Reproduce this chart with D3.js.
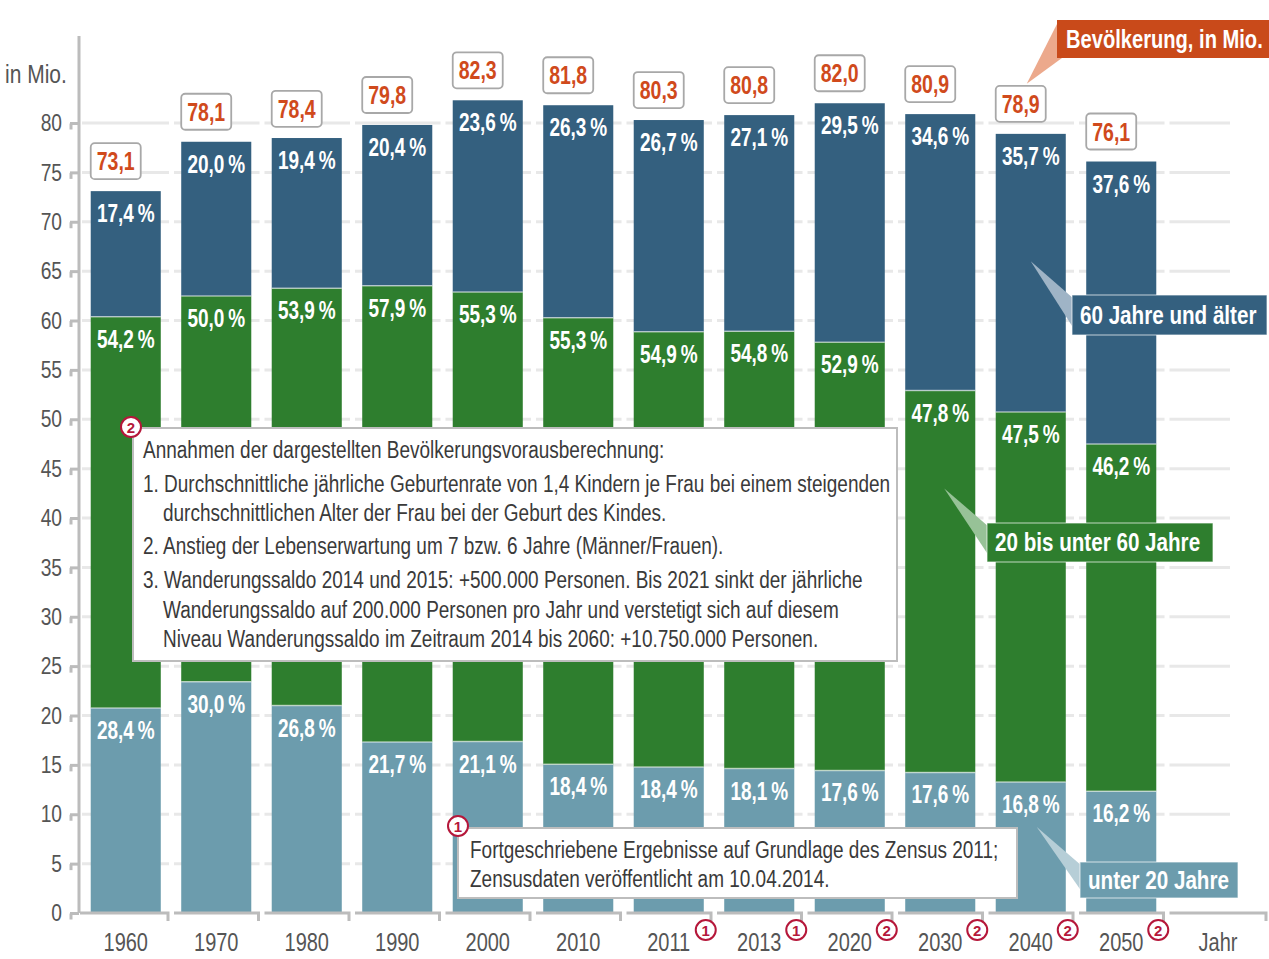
<!DOCTYPE html>
<html>
<head>
<meta charset="utf-8">
<script src="https://cdn.jsdelivr.net/npm/d3@7"></script>
<style>
	body { margin: 0; background: #fff; }
	svg { display: block; font-family: "Liberation Sans", Arial, sans-serif; }
</style>
</head>
<body>
<svg width="1269" height="959"></svg>
<script>
// values
const years = ["1960", "1970", "1980", "1990", "2000", "2010", "2011", "2013", "2020", "2030", "2040", "2050"]
const totals = [73.1, 78.1, 78.4, 79.8, 82.3, 81.8, 80.3, 80.8, 82.0, 80.9, 78.9, 76.1]
const pctUnder20 = [28.4, 30.0, 26.8, 21.7, 21.1, 18.4, 18.4, 18.1, 17.6, 17.6, 16.8, 16.2]
const pct20to60 = [54.2, 50.0, 53.9, 57.9, 55.3, 55.3, 54.9, 54.8, 52.9, 47.8, 47.5, 46.2]
const pct60plus = [17.4, 20.0, 19.4, 20.4, 23.6, 26.3, 26.7, 27.1, 29.5, 34.6, 35.7, 37.6]
const footnotes = [0, 0, 0, 0, 0, 0, 1, 1, 2, 2, 2, 2]
const yTickValues = [0, 5, 10, 15, 20, 25, 30, 35, 40, 45, 50, 55, 60, 65, 70, 75, 80]

const seriesKeys = ["under20", "mid", "old"]
const seriesNames = {
	under20: "unter 20 Jahre",
	mid: "20 bis unter 60 Jahre",
	old: "60 Jahre und älter",
}
const pctByKey = { under20: pctUnder20, mid: pct20to60, old: pct60plus }

const colors = {
	under20: "#6c9cad",
	mid: "#2e7e2e",
	old: "#34607f",
	red: "#d04a1c",
	badge: "#b5173a",
	grid: "#e8e8e8",
	axis: "#bcbcbc",
	text: "#555",
}

const notes2 = [
	["Annahmen der dargestellten Bevölkerungsvorausberechnung:", 0],
	["1. Durchschnittliche jährliche Geburtenrate von 1,4 Kindern je Frau bei einem steigenden", 0],
	["durchschnittlichen Alter der Frau bei der Geburt des Kindes.", 1],
	["2. Anstieg der Lebenserwartung um 7 bzw. 6 Jahre (Männer/Frauen).", 0],
	["3. Wanderungssaldo 2014 und 2015: +500.000 Personen. Bis 2021 sinkt der jährliche", 0],
	["Wanderungssaldo auf 200.000 Personen pro Jahr und verstetigt sich auf diesem", 1],
	["Niveau Wanderungssaldo im Zeitraum 2014 bis 2060: +10.750.000 Personen.", 1],
]
const notes1 = [
	"Fortgeschriebene Ergebnisse auf Grundlage des Zensus 2011;",
	"Zensusdaten veröffentlicht am 10.04.2014.",
]

const rows = years.map((year, i) => {
	const row = { year: year, i: i }
	seriesKeys.forEach((k) => (row[k] = (totals[i] * pctByKey[k][i]) / 100))
	return row
})

const de = d3.formatLocale({ decimal: ",", thousands: ".", grouping: [3], currency: ["", " €"] })
const fmt = de.format(".1f")

const svg = d3.select("svg")

const x = d3
	.scaleBand()
	.domain(years)
	.range([80.5, 80.5 + 12 * 90.5])
	.paddingInner(0.226)
	.paddingOuter(0.113)
const y = d3.scaleLinear().domain([0, 80]).range([913, 123])
const step = x.step()
const bandStart = (i) => 80.5 + i * step

// gridlines, broken at each band boundary
const grid = svg.append("g")
yTickValues
	.filter((v) => v > 0)
	.forEach((v) => {
		years.forEach((yr, i) => {
			grid
				.append("line")
				.attr("x1", i === 0 ? 82 : bandStart(i) + 3)
				.attr("x2", bandStart(i + 1) - 2)
				.attr("y1", y(v))
				.attr("y2", y(v))
				.attr("stroke", colors.grid)
				.attr("stroke-width", 3)
		})
		grid
			.append("line")
			.attr("x1", bandStart(12) + 3)
			.attr("x2", 1230)
			.attr("y1", y(v))
			.attr("y2", y(v))
			.attr("stroke", colors.grid)
			.attr("stroke-width", 3)
	})

// stacked bars
const stacked = d3.stack().keys(seriesKeys)(rows)

const layer = svg
	.selectAll(".layer")
	.data(stacked)
	.enter()
	.append("g")
	.attr("class", "layer")
	.attr("fill", (d) => colors[d.key])

layer
	.selectAll("rect")
	.data((d) => d)
	.enter()
	.append("rect")
	.attr("x", (d) => x(d.data.year))
	.attr("y", (d) => y(d[1]))
	.attr("width", x.bandwidth())
	.attr("height", (d) => y(d[0]) - y(d[1]))

// thin light seams between segments
layer
	.filter((d) => d.key !== "under20")
	.selectAll(".seam")
	.data((d) => d)
	.enter()
	.append("line")
	.attr("x1", (d) => x(d.data.year))
	.attr("x2", (d) => x(d.data.year) + x.bandwidth())
	.attr("y1", (d) => y(d[0]))
	.attr("y2", (d) => y(d[0]))
	.attr("stroke", "rgba(255,255,255,0.55)")
	.attr("stroke-width", 1.5)

// percentage labels
stacked.forEach((s) => {
	svg
		.append("g")
		.selectAll("text")
		.data(s)
		.enter()
		.append("text")
		.attr("x", (d) => x(d.data.year) + x.bandwidth() / 2)
		.attr("y", (d) => y(d[1]) + 31)
		.attr("text-anchor", "middle")
		.attr("fill", "#fff")
		.attr("font-size", 25)
		.attr("font-weight", "bold")
		.attr("data-s", 0.76)
		.text((d) => fmt(pctByKey[s.key][d.data.i]) + "\u2009%")
})

// total boxes
const totalBox = svg
	.selectAll(".total")
	.data(rows)
	.enter()
	.append("g")
	.attr("class", "total")
	.attr("transform", (d) => `translate(${x(d.year)}, ${y(totals[d.i]) - 48})`)

totalBox
	.append("rect")
	.attr("width", 50)
	.attr("height", 36)
	.attr("rx", 4)
	.attr("fill", "#fff")
	.attr("stroke", "#a8a8a8")
	.attr("stroke-width", 1.8)

totalBox
	.append("text")
	.attr("x", 25)
	.attr("y", 27)
	.attr("text-anchor", "middle")
	.attr("fill", colors.red)
	.attr("font-size", 25)
	.attr("font-weight", "bold")
	.attr("data-s", 0.78)
	.text((d) => fmt(totals[d.i]))

// y axis
svg
	.append("line")
	.attr("x1", 79)
	.attr("x2", 79)
	.attr("y1", 36)
	.attr("y2", 913)
	.attr("stroke", colors.axis)
	.attr("stroke-width", 3)

const yAxis = svg
	.append("g")
	.attr("transform", "translate(79,0)")
	.call(d3.axisLeft(y).tickValues(yTickValues).tickSize(9).tickPadding(8))

yAxis.select(".domain").remove()
yAxis.selectAll(".tick line").attr("stroke", colors.axis).attr("stroke-width", 3)
yAxis
	.selectAll(".tick")
	.append("line")
	.attr("x1", -8)
	.attr("x2", -8)
	.attr("y1", 0)
	.attr("y2", 6)
	.attr("stroke", colors.axis)
	.attr("stroke-width", 3)
yAxis
	.selectAll(".tick text")
	.attr("fill", colors.text)
	.attr("font-size", 24)
	.attr("font-family", null)

svg
	.append("text")
	.attr("x", 5)
	.attr("y", 83)
	.attr("fill", colors.text)
	.attr("font-size", 25)
	.attr("data-s", 0.84)
	.text("in Mio.")

// x axis baseline, one segment per band with a small hook
const base = svg.append("g")
years.forEach((yr, i) => {
	const x0 = i === 0 ? 80 : bandStart(i) + 3
	const x1 = bandStart(i + 1) - 3
	base
		.append("path")
		.attr("d", `M${x0},913 H${x1} V921`)
		.attr("fill", "none")
		.attr("stroke", colors.axis)
		.attr("stroke-width", 3)
})
base
	.append("path")
	.attr("d", `M${bandStart(12) + 3},913 H1266 V921`)
	.attr("fill", "none")
	.attr("stroke", colors.axis)
	.attr("stroke-width", 3)

const xAxis = svg
	.append("g")
	.attr("transform", "translate(0,913)")
	.call(d3.axisBottom(x).tickSize(0).tickPadding(20))

xAxis.select(".domain").remove()
xAxis
	.selectAll(".tick text")
	.attr("fill", colors.text)
	.attr("font-size", 25)
	.attr("font-family", null)

svg
	.append("text")
	.attr("x", 1218)
	.attr("y", 951)
	.attr("text-anchor", "middle")
	.attr("fill", colors.text)
	.attr("font-size", 25)
	.text("Jahr")

function badge(cx, cy, n) {
	const g = svg.append("g").attr("transform", `translate(${cx},${cy})`)
	g.append("circle").attr("r", 10).attr("fill", "#fff").attr("stroke", colors.badge).attr("stroke-width", 2)
	g.append("text")
		.attr("y", 5.5)
		.attr("text-anchor", "middle")
		.attr("fill", colors.badge)
		.attr("font-size", 15)
		.attr("font-weight", "bold")
		.attr("data-s", 1)
		.text(n)
}

rows.forEach((d) => {
	if (footnotes[d.i]) badge(x(d.year) + x.bandwidth() / 2 + 37, 930, footnotes[d.i])
})

// callouts for the series
function callout(label, fill, wedge, box, tip) {
	svg
		.append("polygon")
		.attr("points", [tip, [box[0] + 2, box[1] + 4], [box[0] + 2, box[1] + box[3] - 6]].map((p) => p.join(",")).join(" "))
		.attr("fill", wedge)
	svg
		.append("rect")
		.attr("x", box[0])
		.attr("y", box[1])
		.attr("width", box[2])
		.attr("height", box[3])
		.attr("fill", fill)
		.attr("stroke", "rgba(255,255,255,0.7)")
		.attr("stroke-width", 1)
	svg
		.append("text")
		.attr("x", box[0] + 8)
		.attr("y", box[1] + box[3] / 2 + 9)
		.attr("fill", "#fff")
		.attr("font-size", 25)
		.attr("font-weight", "bold")
		.attr("data-s", 0.825)
		.text(label)
}

const c2040 = x("2040") + x.bandwidth() / 2
const c2030 = x("2030") + x.bandwidth() / 2
callout(seriesNames.old, colors.old, "#9fb4c6", [1072, 295, 195, 40], [c2040, y(66)])
callout(seriesNames.mid, colors.mid, "#97c297", [987, 523, 226, 39], [c2030 + 4, y(43)])
callout(seriesNames.under20, colors.under20, "#b6ced7", [1080, 862, 158, 36], [c2040 + 6, y(8.7)])

// "Bevölkerung, in Mio." callout pointing to the 2040 total box
svg
	.append("polygon")
	.attr("points", `1058,22 ${c2040 - 4},${y(totals[10]) - 50} 1062,58`)
	.attr("fill", "#eca98c")
svg.append("rect").attr("x", 1057).attr("y", 20).attr("width", 215).attr("height", 38).attr("fill", "#c94a1a")
svg
	.append("text")
	.attr("x", 1066)
	.attr("y", 48)
	.attr("fill", "#fff")
	.attr("font-size", 25)
	.attr("font-weight", "bold")
	.attr("data-s", 0.805)
	.text("Bevölkerung, in Mio.")

// footnote box 2
svg
	.append("rect")
	.attr("x", 133)
	.attr("y", 428)
	.attr("width", 764)
	.attr("height", 233)
	.attr("fill", "#fff")
	.attr("stroke", "#bdbdbd")
	.attr("stroke-width", 2)
const lineY2 = [458, 492, 521, 554, 588, 618, 647]
notes2.forEach(([t, indent], i) => {
	svg
		.append("text")
		.attr("x", indent ? 163 : 143)
		.attr("y", lineY2[i])
		.attr("fill", "#3a3a3a")
		.attr("font-size", 23)
		.attr("data-s", 0.826)
		.text(t)
})
badge(131, 427, 2)

// footnote box 1
svg
	.append("rect")
	.attr("x", 458)
	.attr("y", 828)
	.attr("width", 559)
	.attr("height", 70)
	.attr("fill", "#fff")
	.attr("stroke", "#bdbdbd")
	.attr("stroke-width", 2)
notes1.forEach((t, i) => {
	svg
		.append("text")
		.attr("x", 470)
		.attr("y", 858 + i * 29)
		.attr("fill", "#3a3a3a")
		.attr("font-size", 23)
		.attr("data-s", 0.826)
		.text(t)
})
badge(458, 826, 1)

// squeeze all text horizontally to mimic the condensed face of the original
svg.selectAll("text").each(function () {
	const s = +(this.getAttribute("data-s") || 0.8)
	const tx = +(this.getAttribute("x") || 0)
	this.setAttribute("transform", `translate(${tx},0) scale(${s},1) translate(${-tx},0)`)
})
</script>
</body>
</html>
